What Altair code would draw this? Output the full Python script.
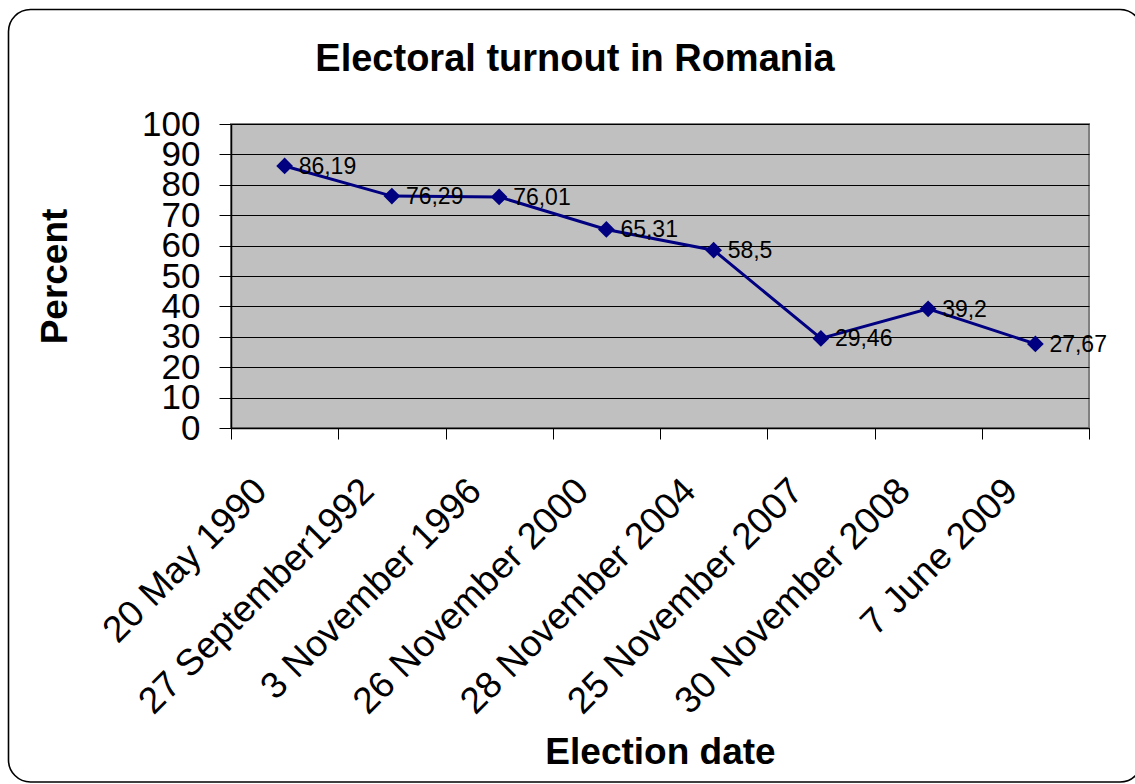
import altair as alt
import pandas as pd

# Election dates (category axis) and turnout in percent
dates = [
    "20 May 1990",
    "27 September1992",
    "3 November 1996",
    "26 November 2000",
    "28 November 2004",
    "25 November 2007",
    "30 November 2008",
    "7 June 2009",
]
turnout = [86.19, 76.29, 76.01, 65.31, 58.5, 29.46, 39.2, 27.67]
y_ticks = [0, 10, 20, 30, 40, 50, 60, 70, 80, 90, 100]

df = pd.DataFrame({
    "date": dates,
    "turnout": turnout,
    "label": [f"{v:g}".replace(".", ",") for v in turnout],
})

FONT = "Liberation Sans"
NAVY = "#000080"

# plot-area placement inside the 1135x784 page
PAD_L, PAD_T, W, H = 231, 124, 858, 304

x_enc = alt.X(
    "date:N",
    sort=dates,
    scale=alt.Scale(paddingInner=0, paddingOuter=0),
    axis=alt.Axis(
        title="Election date",
        titleFont=FONT,
        titleFontSize=37,
        titleFontWeight="bold",
        titleColor="black",
        titleBaseline="middle",
        titleY=324,
        labelFont=FONT,
        labelFontSize=37,
        labelColor="black",
        labelAngle=-45,
        labelAlign="right",
        labelBaseline="middle",
        labelPadding=46,
        labelOffset=-24,
        labelOverlap=False,
        labelLimit=0,
        tickBand="extent",
        tickSize=11,
        tickColor="black",
        domainColor="black",
        domainWidth=1.5,
        grid=False,
    ),
)
y_enc = alt.Y(
    "turnout:Q",
    scale=alt.Scale(domain=[0, 100], nice=False),
    axis=alt.Axis(
        title="Percent",
        titleFont=FONT,
        titleFontSize=37,
        titleFontWeight="bold",
        titleColor="black",
        titleAngle=-90,
        titleAlign="center",
        titleBaseline="middle",
        titleX=-176,
        titleY=152,
        values=y_ticks,
        labelFont=FONT,
        labelFontSize=35,
        labelColor="black",
        labelPadding=19,
        labelOverlap=False,
        labelFlush=False,
        tickSize=12,
        tickColor="black",
        domainColor="black",
        domainWidth=1.5,
        grid=True,
        gridColor="black",
        gridWidth=1,
    ),
)

base = alt.Chart(df).encode(x=x_enc, y=y_enc)

line = base.mark_line(color=NAVY, strokeWidth=3)
points = base.mark_point(shape="diamond", filled=True, size=280, color=NAVY, opacity=1)
labels = base.mark_text(
    align="left", baseline="middle", dx=14, dy=1, font=FONT, fontSize=23, color="black"
).encode(text="label:N")

# rounded frame around the whole chart
frame = alt.Chart(pd.DataFrame({"k": [0]})).mark_rect(
    fillOpacity=0, stroke="black", strokeWidth=1.6, cornerRadius=22
).encode(
    x=alt.value(8.5 - PAD_L),
    x2=alt.value(1142 - PAD_L),
    y=alt.value(9.5 - PAD_T),
    y2=alt.value(782 - PAD_T),
)

chart = (
    alt.layer(frame, line, points, labels)
    .properties(
        width=W,
        height=H,
        autosize=alt.AutoSizeParams(type="none"),
        padding={"left": PAD_L, "top": PAD_T, "right": 1135 - PAD_L - W, "bottom": 784 - PAD_T - H},
        title=alt.TitleParams(
            "Electoral turnout in Romania",
            font=FONT,
            fontSize=38,
            fontWeight="bold",
            color="black",
            anchor="middle",
            frame="group",
            baseline="alphabetic",
            offset=0,
            dx=-85,
            dy=100,
        ),
        background="white",
    )
    .configure_view(fill="#C0C0C0", stroke="#808080", strokeWidth=2)
)

chart.save("out.html", embed_options={"renderer": "svg", "actions": False})
